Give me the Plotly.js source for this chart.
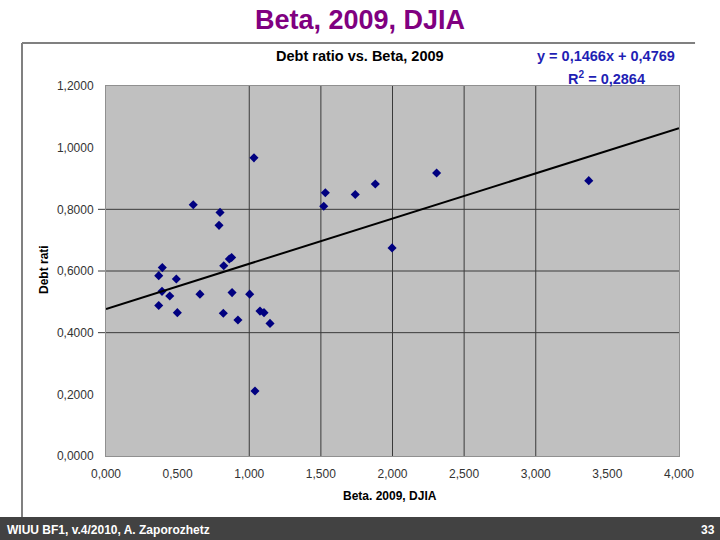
<!DOCTYPE html>
<html>
<head>
<meta charset="utf-8">
<script src="https://cdn.plot.ly/plotly-3.0.1.min.js"></script>
<style>html,body{margin:0;padding:0;background:#fff;}#chart{width:720px;height:540px;}</style>
</head>
<body>
<div id="chart"></div>
<script>
// Scatter data: Beta 2009 (x) vs Debt ratio (y), DJIA companies
var betaValues = [1.033, 0.609, 0.796, 0.789, 1.531, 1.520, 1.740, 1.880, 1.997, 2.308,
                  3.370, 0.393, 0.368, 0.491, 0.391, 0.445, 0.368, 0.498, 0.656, 0.822,
                  0.861, 0.877, 0.880, 1.003, 0.819, 0.921, 1.075, 1.103, 1.145, 1.040];
var debtRatios = [0.967, 0.815, 0.790, 0.748, 0.854, 0.810, 0.848, 0.882, 0.675, 0.918,
                  0.893, 0.611, 0.585, 0.574, 0.534, 0.519, 0.488, 0.465, 0.525, 0.617,
                  0.639, 0.644, 0.530, 0.525, 0.463, 0.441, 0.470, 0.465, 0.430, 0.211];
// Linear trend line endpoints (y = 0,1466x + 0,4769)
var trendX = [0, 4];
var trendY = [0.4769, 1.0633];
// Axis ticks
var xTicks = [0, 0.5, 1, 1.5, 2, 2.5, 3, 3.5, 4];
var yTicks = [0, 0.2, 0.4, 0.6, 0.8, 1.0, 1.2];
var xGrid = [1, 1.5, 2, 2.5, 3];
var yGrid = [0.4, 0.6, 0.8];
// Texts
var slideTitle = 'Beta, 2009, DJIA';
var chartTitle = 'Debt ratio vs. Beta, 2009';
var eqText = 'y = 0,1466x + 0,4769';
var r2Text = 'R<sup>2</sup> = 0,2864';
var xTitle = 'Beta. 2009, DJIA';
var yTitle = 'Debt rati';
var footerLeft = 'WIUU BF1, v.4/2010, A. Zaporozhetz';
var footerRight = '33';

var FONT = 'Arial, "Liberation Sans", sans-serif';

var traces = [
  {x: betaValues, y: debtRatios, type: 'scatter', mode: 'markers',
   marker: {symbol: 'diamond', size: 7, color: '#000080'}, hoverinfo: 'x+y'},
  {x: trendX, y: trendY, type: 'scatter', mode: 'lines',
   line: {color: '#000000', width: 2}, hoverinfo: 'skip'}
];

var shapes = [];
xGrid.forEach(function(v){
  shapes.push({type:'line', layer:'below', xref:'x', yref:'paper', x0:v, x1:v, y0:0, y1:1,
               line:{color:'#3a3a3a', width:1}});
});
yGrid.forEach(function(v){
  shapes.push({type:'line', layer:'below', xref:'paper', yref:'y', x0:-0.014, x1:1, y0:v, y1:v,
               line:{color:'#3a3a3a', width:1}});
});
// chart frame (top and left edges)
shapes.push({type:'line', xref:'paper', yref:'paper', x0:-0.1466, x1:1.028, y0:1.1162, y1:1.1162,
             line:{color:'#808080', width:2}});
shapes.push({type:'line', xref:'paper', yref:'paper', x0:-0.1466, x1:-0.1466, y0:1.1162, y1:-0.165,
             line:{color:'#808080', width:2}});
// footer band
shapes.push({type:'rect', xref:'paper', yref:'paper', x0:-0.19, x1:1.08, y0:-0.165, y1:-0.23,
             fillcolor:'#424242', line:{width:0}});

var annotations = [
  {text: slideTitle, xref:'paper', yref:'paper', x:0.4433, y:1.178, showarrow:false,
   xanchor:'center', yanchor:'middle', font:{family:FONT, size:27, color:'#800080', weight:'bold'}},
  {text: chartTitle, xref:'paper', yref:'paper', x:0.4433, y:1.081, showarrow:false,
   xanchor:'center', yanchor:'middle', font:{family:FONT, size:14.5, color:'#000000', weight:'bold'}},
  {text: eqText, xref:'paper', yref:'paper', x:0.9965, y:1.081, showarrow:false,
   xanchor:'right', yanchor:'middle', font:{family:FONT, size:14.5, color:'#1f1fb4', weight:'bold'}},
  {text: r2Text, xref:'paper', yref:'paper', x:0.8743, y:1.0216, showarrow:false,
   xanchor:'center', yanchor:'middle', font:{family:FONT, size:14.5, color:'#1f1fb4', weight:'bold'}},
  {text: xTitle, xref:'paper', yref:'paper', x:0.4956, y:-0.108, showarrow:false,
   xanchor:'center', yanchor:'middle', font:{family:FONT, size:12, color:'#000000', weight:'bold'}},
  {text: yTitle, xref:'paper', yref:'paper', x:-0.108, y:0.503, showarrow:false, textangle:-90,
   xanchor:'center', yanchor:'middle', font:{family:FONT, size:12, color:'#000000', weight:'bold'}},
  {text: footerLeft, xref:'paper', yref:'paper', x:-0.176, y:-0.2, showarrow:false,
   xanchor:'left', yanchor:'middle', font:{family:'"Liberation Sans Narrow", "Arial Narrow", ' + FONT, size:12, color:'#ffffff', weight:'bold'}},
  {text: footerRight, xref:'paper', yref:'paper', x:1.066, y:-0.2, showarrow:false,
   xanchor:'right', yanchor:'middle', font:{family:'"Liberation Sans Narrow", "Arial Narrow", ' + FONT, size:12, color:'#ffffff', weight:'bold'}}
];

var layout = {
  width: 720, height: 540,
  margin: {l:106, r:41, t:86, b:84},
  paper_bgcolor: '#ffffff',
  plot_bgcolor: '#c0c0c0',
  separators: ', ',
  showlegend: false,
  font: {family: FONT, size: 12, color: '#333333'},
  xaxis: {range:[0,4], tickmode:'array', tickvals:xTicks, tickformat:'.3f',
          showgrid:false, zeroline:false, ticks:'outside', ticklen:7, tickcolor:'rgba(0,0,0,0)',
          showline:true, linecolor:'#909090', linewidth:1, mirror:true,
          tickfont:{family:FONT, size:12, color:'#333333'}},
  yaxis: {range:[0,1.2], tickmode:'array', tickvals:yTicks, tickformat:'.4f',
          showgrid:false, zeroline:false, ticks:'outside', ticklen:9, tickcolor:'rgba(0,0,0,0)',
          showline:true, linecolor:'#909090', linewidth:1, mirror:true,
          tickfont:{family:FONT, size:12, color:'#333333'}},
  shapes: shapes,
  annotations: annotations
};

Plotly.newPlot('chart', traces, layout, {displayModeBar:false, staticPlot:true});
</script>
</body>
</html>
